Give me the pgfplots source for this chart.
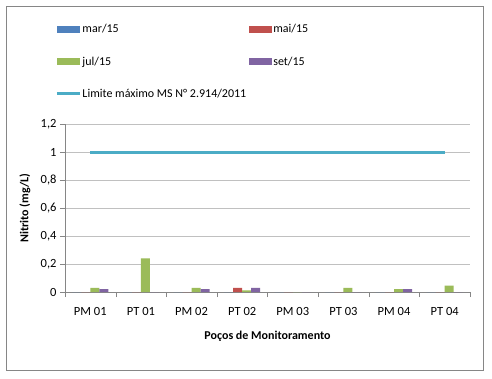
\documentclass[border=0pt]{standalone}
\usepackage{fontspec}
\setmainfont{Carlito}
\usepackage{pgfplots}
\pgfplotsset{compat=1.18}
\definecolor{cMar}{HTML}{4F81BD}
\definecolor{cMai}{HTML}{C0504D}
\definecolor{cJul}{HTML}{9BBB59}
\definecolor{cSet}{HTML}{8064A2}
\definecolor{cLim}{HTML}{4BACC6}
\definecolor{cGrid}{HTML}{C0C0C0}
\definecolor{cAxis}{HTML}{868686}
\pgfplotsset{
  barleg/.style={legend image code/.code={\fill[##1] (0pt,-3.5pt) rectangle (23pt,3.5pt);}},
  limleg/.style={legend image code/.code={\draw[##1] (0pt,0pt) -- (23pt,0pt);}},
}
\begin{document}
\begin{tikzpicture}[x=1pt,y=1pt]
\useasboundingbox (0,0) rectangle (492,378);
\fill[white] (0,0) rectangle (492,378);
\begin{axis}[
  at={(65pt,86pt)}, anchor=south west,
  scale only axis, width=405pt, height=168pt,
  xmin=-0.5, xmax=7.5, ymin=0, ymax=1.2,
  xtick={0,...,7},
  xticklabels={PM 01,PT 01,PM 02,PT 02,PM 03,PT 03,PM 04,PT 04},
  minor xtick={-0.5,0.5,...,7.5},
  major x tick style={draw=none},
  minor x tick style={draw=cAxis},
  minor tick length=5pt,
  ytick={0,0.2,...,1.2},
  y tick style={draw=cAxis},
  major tick length=5pt,
  tick align=outside,
  ymajorgrids, grid style={cGrid, line width=0.8pt},
  axis lines*=left,
  axis line style={cAxis, line width=0.8pt},
  /pgf/number format/assume math mode=true,
  /pgf/number format/use comma,
  ticklabel style={font=\fontsize{12.5}{14}\selectfont},
  xticklabel style={yshift=-7pt},
  ylabel={\bfseries Nitrito (mg/L)},
  xlabel={\bfseries Poços de Monitoramento},
  label style={font=\fontsize{12}{14}\selectfont},
  ylabel style={at={(axis description cs:-0.077,0.5)}, anchor=south},
  xlabel style={at={(axis description cs:0.5,-0.21)}, anchor=north},
  legend columns=2,
  legend style={at={(axis description cs:-0.024,1.60)}, anchor=north west,
    draw=none, fill=none, inner sep=0pt,
    font=\fontsize{12}{14}\selectfont,
    nodes={inner sep=1pt, anchor=west},
    /tikz/every even column/.append style={column sep=2pt},
    row sep=20.5pt},
  legend cell align=left,
]
\addplot[ybar, bar width=9pt, bar shift=-13.5pt, fill=cMar, draw=none, barleg] coordinates {(0,0) (1,0) (2,0) (3,0) (4,0) (5,0) (6,0) (7,0)};
\addlegendentry{mar/15}
\addplot[ybar, bar width=9pt, bar shift=-4.5pt, fill=cMai, draw=none, barleg] coordinates {(0,0) (1,0) (2,0) (3,0.03) (4,0) (5,0) (6,0) (7,0)};
\addlegendentry{mai/15}
\addplot[ybar, bar width=9pt, bar shift=4.5pt, fill=cJul, draw=none, barleg] coordinates {(0,0.03) (1,0.24) (2,0.03) (3,0.012) (4,0) (5,0.03) (6,0.02) (7,0.045)};
\addlegendentry{jul/15}
\addplot[ybar, bar width=9pt, bar shift=13.5pt, fill=cSet, draw=none, barleg] coordinates {(0,0.02) (1,0) (2,0.02) (3,0.03) (4,0) (5,0) (6,0.02) (7,0)};
\addlegendentry{set/15}
\addplot[cLim, line width=3pt, mark=none, sharp plot, limleg] coordinates {(0,1) (7,1)};
\addlegendentry{Limite máximo MS N° 2.914/2011}
\end{axis}
\draw[cAxis, line width=0.8pt] (6.5,8) rectangle (483,371.5);
\end{tikzpicture}
\end{document}
